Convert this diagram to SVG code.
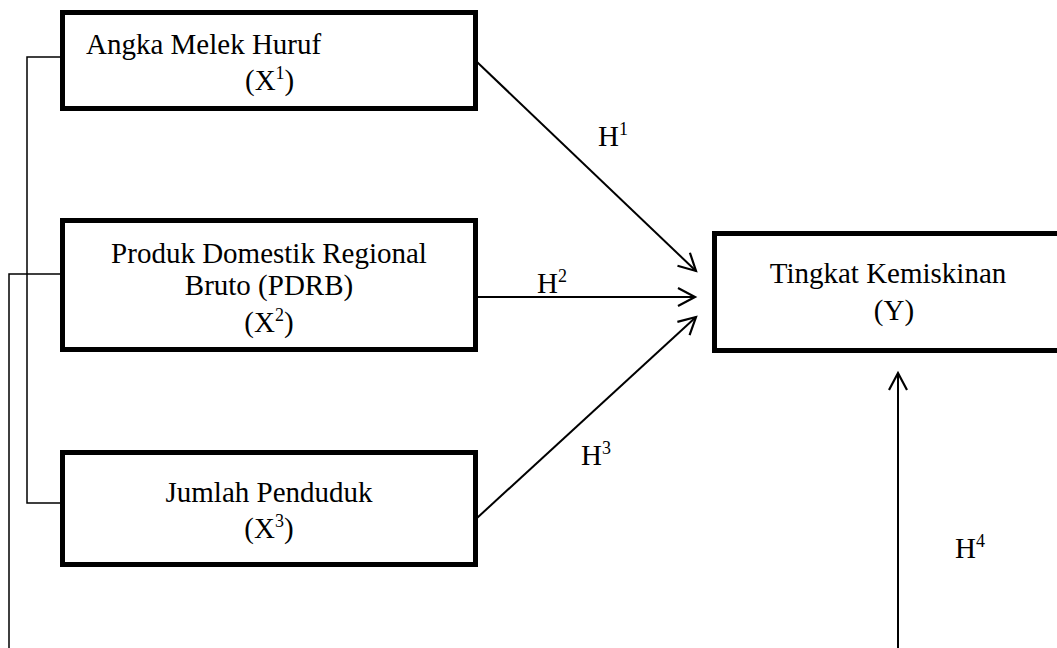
<svg xmlns="http://www.w3.org/2000/svg" width="1057" height="648" viewBox="0 0 1057 648">
<style>
.box{fill:#fff;stroke:#000;stroke-width:5}
.ln{fill:none;stroke:#000;stroke-width:1.5}
.ar{fill:none;stroke:#000;stroke-width:2}
text{font-family:"Liberation Serif","Times New Roman",serif;font-size:29px;fill:#000}
.c{text-anchor:middle}
.sup{font-size:18px}
</style>
<defs>
<marker id="open" markerWidth="24" markerHeight="24" refX="20" refY="12" orient="auto" markerUnits="userSpaceOnUse">
<path d="M3,3 L20,12 L3,21" fill="none" stroke="#000" stroke-width="2.2"/>
</marker>
</defs>
<g id="connectors">
<path class="ln" d="M60,57 H27 V503 H60"/>
<path class="ln" d="M60,274 H9 V660"/>
<line class="ar" x1="477" y1="62" x2="696" y2="271" marker-end="url(#open)"/>
<line class="ar" x1="477" y1="297" x2="695" y2="297" marker-end="url(#open)"/>
<line class="ar" x1="477" y1="518" x2="696" y2="317" marker-end="url(#open)"/>
<line class="ar" x1="898" y1="660" x2="898" y2="373" marker-end="url(#open)"/>
<text x="598" y="146">H<tspan class="sup" dy="-11">1</tspan></text>
<text x="537" y="293">H<tspan class="sup" dy="-11">2</tspan></text>
<text x="581" y="465">H<tspan class="sup" dy="-11">3</tspan></text>
<text x="955" y="558">H<tspan class="sup" dy="-11">4</tspan></text>
</g>
<g id="x1">
<rect class="box" x="62.5" y="12.5" width="413" height="96"/>
<text x="86" y="54">Angka Melek Huruf</text>
<text x="245" y="90">(X<tspan class="sup" dy="-11">1</tspan><tspan dy="11">)</tspan></text>
</g>
<g id="x2">
<rect class="box" x="62.5" y="220.5" width="413" height="129"/>
<text class="c" x="269" y="263">Produk Domestik Regional</text>
<text class="c" x="269" y="295">Bruto (PDRB)</text>
<text class="c" x="269" y="332">(X<tspan class="sup" dy="-11">2</tspan><tspan dy="11">)</tspan></text>
</g>
<g id="x3">
<rect class="box" x="62.5" y="452.5" width="413" height="112"/>
<text class="c" x="269" y="502">Jumlah Penduduk</text>
<text class="c" x="269" y="538">(X<tspan class="sup" dy="-11">3</tspan><tspan dy="11">)</tspan></text>
</g>
<g id="y">
<rect class="box" x="714.5" y="233.5" width="360" height="117"/>
<text class="c" x="888" y="283">Tingkat Kemiskinan</text>
<text class="c" x="894" y="320">(Y)</text>
</g>
</svg>
